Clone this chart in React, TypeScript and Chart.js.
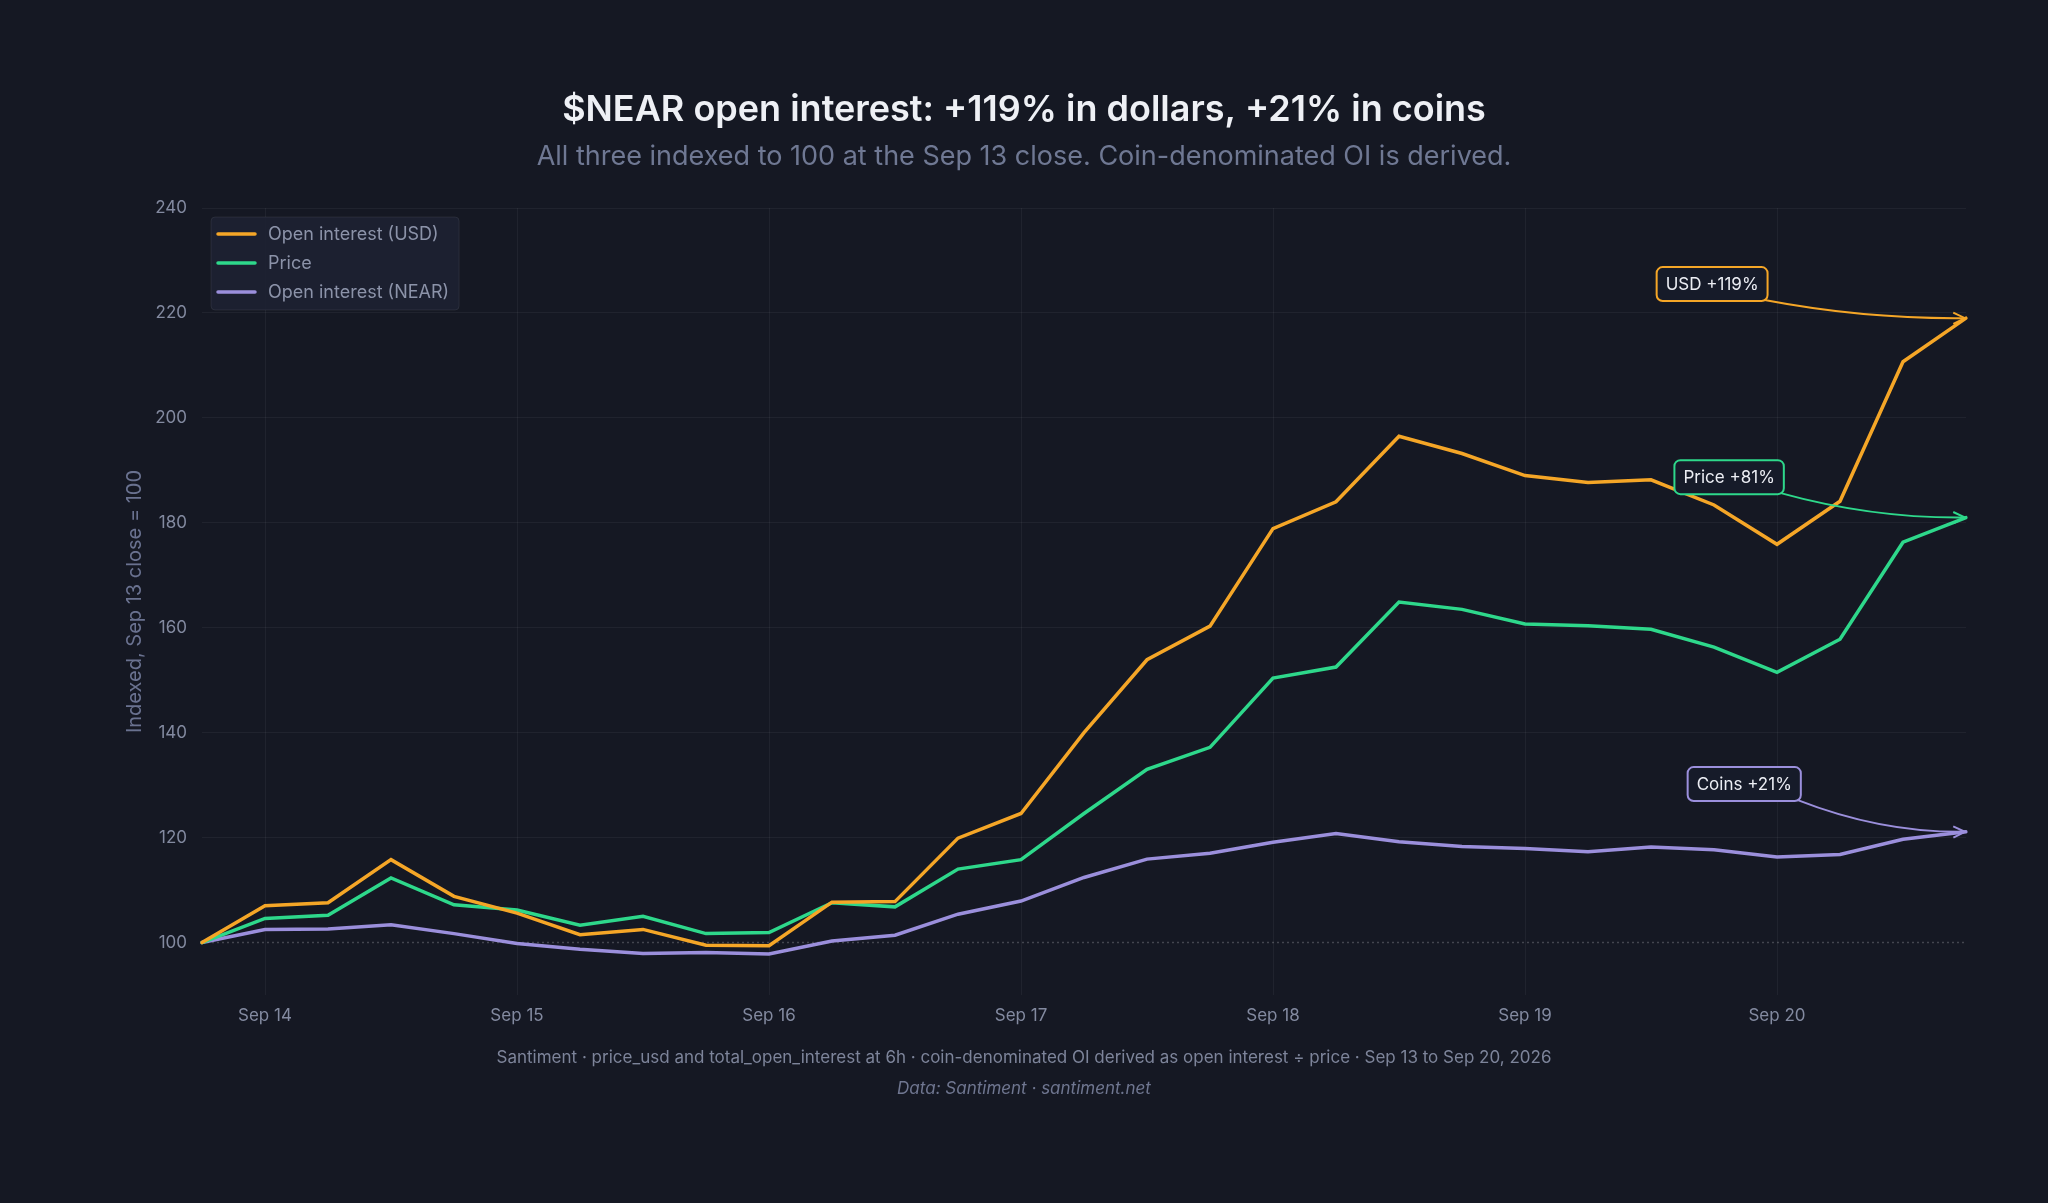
import React, { useEffect, useRef } from 'react';
import { Chart, registerables } from 'chart.js';

Chart.register(...registerables);

// ---------- data ----------
const timeLabels = [
  'Sep 13 18:00',
  'Sep 14 00:00', 'Sep 14 06:00', 'Sep 14 12:00', 'Sep 14 18:00',
  'Sep 15 00:00', 'Sep 15 06:00', 'Sep 15 12:00', 'Sep 15 18:00',
  'Sep 16 00:00', 'Sep 16 06:00', 'Sep 16 12:00', 'Sep 16 18:00',
  'Sep 17 00:00', 'Sep 17 06:00', 'Sep 17 12:00', 'Sep 17 18:00',
  'Sep 18 00:00', 'Sep 18 06:00', 'Sep 18 12:00', 'Sep 18 18:00',
  'Sep 19 00:00', 'Sep 19 06:00', 'Sep 19 12:00', 'Sep 19 18:00',
  'Sep 20 00:00', 'Sep 20 06:00', 'Sep 20 12:00', 'Sep 20 18:00',
];

const openInterestUsd = [
  100, 107.0, 107.6, 115.8, 108.8, 105.6, 101.5, 102.5, 99.5, 99.4,
  107.7, 107.8, 119.9, 124.6, 140.0, 153.9, 160.3, 178.9, 184.0, 196.5,
  193.2, 189.0, 187.7, 188.2, 183.4, 175.9, 184.1, 210.7, 219.0,
];

const priceIndexed = [
  100, 104.6, 105.2, 112.3, 107.2, 106.2, 103.3, 105.0, 101.7, 101.9,
  107.6, 106.8, 114.0, 115.8, 124.6, 133.0, 137.2, 150.4, 152.5, 164.9,
  163.5, 160.7, 160.4, 159.7, 156.3, 151.5, 157.8, 176.3, 181.0,
];

const openInterestCoins = [
  100, 102.5, 102.6, 103.4, 101.7, 99.8, 98.7, 97.9, 98.1, 97.8,
  100.3, 101.4, 105.4, 107.9, 112.4, 115.9, 117.0, 119.1, 120.8, 119.2,
  118.3, 117.9, 117.3, 118.2, 117.7, 116.3, 116.8, 119.7, 121.1,
];

const seriesLabels = ['Open interest (USD)', 'Price', 'Open interest (NEAR)'];
const yTickValues = [100, 120, 140, 160, 180, 200, 220, 240];
const baselineValue = 100;

const calloutTexts = ['USD +119%', 'Price +81%', 'Coins +21%'];
const calloutXIndex = [23.97, 24.24, 24.48];
const calloutYValue = [225.5, 188.7, 130.2];

const titleText = '$NEAR open interest: +119% in dollars, +21% in coins';
const subtitleText = 'All three indexed to 100 at the Sep 13 close. Coin-denominated OI is derived.';
const yAxisTitle = 'Indexed, Sep 13 close = 100';
const footerText =
  'Santiment · price_usd and total_open_interest at 6h · coin-denominated OI derived as open interest ÷ price · Sep 13 to Sep 20, 2026';
const sourceText = 'Data: Santiment · santiment.net';

// ---------- style ----------
const FONT = 'Inter, "Noto Sans", "DejaVu Sans", sans-serif';
const BG = '#151823';
const COLORS = ['#f5a627', '#2ed88b', '#9b8fdc'];
const GRID = 'rgba(255,255,255,0.05)';
const TICK = '#838aa0';

const W = 2048;
const H = 1203;

const decorPlugin = {
  id: 'decor',
  beforeDraw(chart: any) {
    const { ctx } = chart;
    ctx.save();
    ctx.fillStyle = BG;
    ctx.fillRect(0, 0, chart.width, chart.height);
    ctx.textAlign = 'center';
    ctx.textBaseline = 'middle';
    ctx.fillStyle = '#eef0f5';
    ctx.font = `600 36px ${FONT}`;
    ctx.fillText(titleText, W / 2, 110);
    ctx.fillStyle = '#6f7893';
    ctx.font = `400 27px ${FONT}`;
    ctx.fillText(subtitleText, W / 2, 157);
    ctx.fillStyle = '#7d849a';
    ctx.font = `400 17px ${FONT}`;
    ctx.fillText(footerText, W / 2, 1058);
    ctx.fillStyle = '#6f7690';
    ctx.font = `italic 400 17px ${FONT}`;
    ctx.fillText(sourceText, W / 2, 1089);
    ctx.restore();
  },
  beforeDatasetsDraw(chart: any) {
    const { ctx, chartArea } = chart;
    const y = chart.scales.y.getPixelForValue(baselineValue);
    ctx.save();
    ctx.strokeStyle = 'rgba(255,255,255,0.2)';
    ctx.lineWidth = 1.5;
    ctx.setLineDash([2, 3]);
    ctx.beginPath();
    ctx.moveTo(chartArea.left, y);
    ctx.lineTo(chartArea.right, y);
    ctx.stroke();
    ctx.restore();
  },
  afterDatasetsDraw(chart: any) {
    const { ctx, chartArea } = chart;
    const xs = chart.scales.x;
    const ys = chart.scales.y;
    ctx.save();
    // callouts
    ctx.font = `400 17px ${FONT}`;
    calloutTexts.forEach((text, i) => {
      const meta = chart.getDatasetMeta(i);
      const pt = meta.data[meta.data.length - 1];
      const cx = xs.getPixelForValue(calloutXIndex[i]);
      const cy = ys.getPixelForValue(calloutYValue[i]);
      const tw = ctx.measureText(text).width;
      const bw = tw + 18;
      const bh = 34;
      const bx = cx - bw / 2;
      const by = cy - bh / 2;
      const sx = bx + bw - 3;
      const sy = by + bh - 1;
      const ex = pt.x - 1;
      const ey = pt.y;
      const qx = sx + (ex - sx) * 0.5;
      const qy = ey + 1;
      ctx.strokeStyle = COLORS[i];
      ctx.lineWidth = 2;
      ctx.setLineDash([]);
      ctx.beginPath();
      ctx.moveTo(sx, sy);
      ctx.quadraticCurveTo(qx, qy, ex, ey);
      ctx.stroke();
      const ang = Math.atan2(ey - qy, ex - qx);
      const al = 13;
      ctx.beginPath();
      ctx.moveTo(ex - al * Math.cos(ang - 0.45), ey - al * Math.sin(ang - 0.45));
      ctx.lineTo(ex, ey);
      ctx.lineTo(ex - al * Math.cos(ang + 0.45), ey - al * Math.sin(ang + 0.45));
      ctx.stroke();
      // box
      ctx.beginPath();
      ctx.roundRect(bx, by, bw, bh, 6);
      ctx.fillStyle = '#161b29';
      ctx.fill();
      ctx.lineWidth = 2;
      ctx.strokeStyle = COLORS[i];
      ctx.stroke();
      ctx.fillStyle = '#eceef4';
      ctx.textAlign = 'center';
      ctx.textBaseline = 'middle';
      ctx.fillText(text, cx, cy + 1);
    });
    // legend
    ctx.font = `400 18px ${FONT}`;
    const lx = chartArea.left + 9;
    const ly = chartArea.top + 9;
    let maxW = 0;
    seriesLabels.forEach((l) => (maxW = Math.max(maxW, ctx.measureText(l).width)));
    const lw = 6 + 39 + 12 + maxW + 10;
    const lh = 93;
    ctx.beginPath();
    ctx.roundRect(lx, ly, lw, lh, 4);
    ctx.fillStyle = 'rgba(29,34,50,0.92)';
    ctx.fill();
    ctx.strokeStyle = 'rgba(255,255,255,0.07)';
    ctx.lineWidth = 1;
    ctx.stroke();
    seriesLabels.forEach((l, i) => {
      const rowY = ly + 17 + i * 29;
      ctx.strokeStyle = COLORS[i];
      ctx.lineWidth = 3.5;
      ctx.lineCap = 'round';
      ctx.beginPath();
      ctx.moveTo(lx + 7, rowY);
      ctx.lineTo(lx + 44, rowY);
      ctx.stroke();
      ctx.fillStyle = '#8c93a9';
      ctx.textAlign = 'left';
      ctx.textBaseline = 'middle';
      ctx.fillText(l, lx + 57, rowY + 1);
    });
    ctx.restore();
  },
};

export default function App() {
  const ref = useRef<HTMLCanvasElement | null>(null);

  useEffect(() => {
    document.body.style.margin = '0';
    document.body.style.background = BG;
    document.body.style.overflow = 'hidden';
    const canvas = ref.current;
    if (!canvas) return;
    const data = [openInterestUsd, priceIndexed, openInterestCoins];
    const chart = new Chart(canvas, {
      type: 'line',
      data: {
        labels: timeLabels,
        datasets: data.map((d, i) => ({
          label: seriesLabels[i],
          data: d,
          borderColor: COLORS[i],
          backgroundColor: COLORS[i],
          borderWidth: 3.5,
          pointRadius: 0,
          pointHoverRadius: 0,
          tension: 0,
          fill: false,
          borderCapStyle: 'round',
        })),
      },
      options: {
        responsive: false,
        animation: false,
        devicePixelRatio: 1,
        layout: { padding: { left: 0, right: 82, top: 208, bottom: 158 } },
        plugins: {
          legend: { display: false },
          tooltip: { enabled: false },
          title: { display: false },
        },
        scales: {
          x: {
            type: 'category',
            offset: false,
            border: { display: false },
            grid: {
              drawTicks: false,
              color: (c: any) =>
                c.index !== undefined && timeLabels[c.index] && timeLabels[c.index].endsWith('00:00')
                  ? GRID
                  : 'transparent',
            },
            ticks: {
              autoSkip: false,
              maxRotation: 0,
              minRotation: 0,
              padding: 11,
              color: TICK,
              font: { family: FONT, size: 17 },
              callback: (_v: any, i: number) =>
                timeLabels[i].endsWith('00:00') ? timeLabels[i].slice(0, 6) : '',
            },
            afterFit: (s: any) => {
              s.height = 50;
            },
          },
          y: {
            min: 90,
            max: 240,
            border: { display: false },
            grid: {
              drawTicks: false,
              color: (c: any) => (c.tick && c.tick.value === baselineValue ? 'transparent' : GRID),
            },
            afterBuildTicks: (s: any) => {
              s.ticks = yTickValues.map((v) => ({ value: v }));
            },
            ticks: {
              padding: 15,
              color: TICK,
              font: { family: FONT, size: 17 },
            },
            title: {
              display: true,
              text: yAxisTitle,
              color: '#6a7290',
              font: { family: FONT, size: 20 },
              padding: { top: 123, bottom: 0 },
            },
            afterFit: (s: any) => {
              s.width = 202;
            },
          },
        },
      },
      plugins: [decorPlugin],
    } as any);
    return () => chart.destroy();
  }, []);

  return (
    <div style={{ width: W, height: H, background: BG }}>
      <canvas ref={ref} width={W} height={H} style={{ display: 'block', width: W, height: H }} />
    </div>
  );
}
